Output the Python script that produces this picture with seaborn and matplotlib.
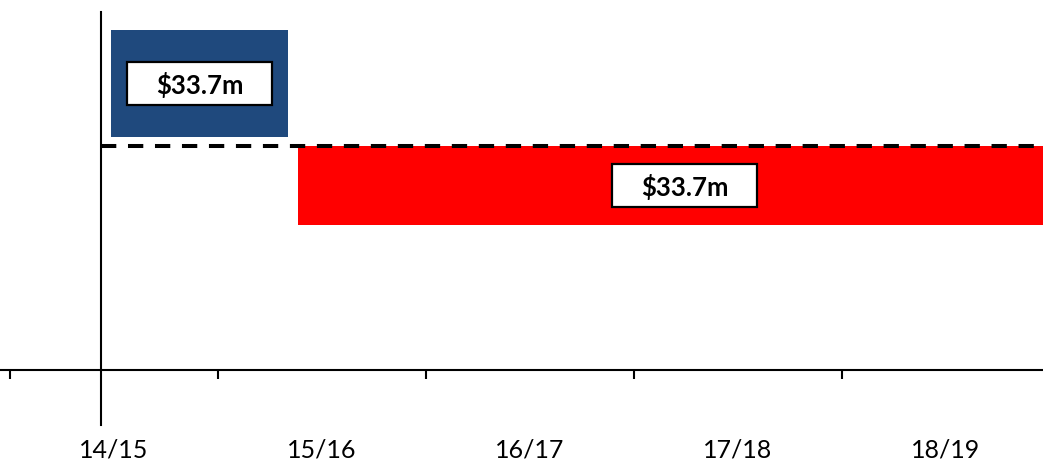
import matplotlib
matplotlib.use("Agg")
import matplotlib.pyplot as plt
import seaborn as sns
from matplotlib.patches import Rectangle

sns.set_theme(style="white")
plt.rcParams["font.family"] = ["Lato", "DejaVu Sans"]

# ------------------------------------------------------
# DATA
# ------------------------------------------------------
years = ["14/15", "15/16", "16/17", "17/18", "18/19"]

# funding blocks: start / end along the year axis, bottom / top level
block_labels = ["$33.7m", "$33.7m"]
block_colors = ["#1F497D", "#FF0000"]
block_start = [-0.014, 0.885]
block_end = [0.837, 4.6]
block_bottom = [23.3, 14.5]
block_top = [34.0, 22.4]

baseline_level = 22.4

# ------------------------------------------------------
# CHART
# ------------------------------------------------------
fig = plt.figure(figsize=(10.43, 4.66), dpi=100)
ax = fig.add_axes([0, 0, 1, 1])
ax.set_xlim(-0.548, 4.466)
ax.set_ylim(-9.6, 37.0)

for x0, x1, y0, y1, c, lab in zip(block_start, block_end, block_bottom,
                                  block_top, block_colors, block_labels):
    ax.bar(x0, y1 - y0, width=x1 - x0, bottom=y0, align="edge",
           color=c, edgecolor="none", zorder=2)
    cx = (x0 + x1) / 2
    cy = (y0 + y1) / 2
    bw, bh = 0.70, 4.3
    ax.add_patch(Rectangle((cx - bw / 2, cy - bh / 2), bw, bh,
                           facecolor="white", edgecolor="black",
                           linewidth=1.6, zorder=3))
    ax.text(cx, cy - 0.15, lab, ha="center", va="center", fontsize=18.5,
            fontweight="bold", color="black", zorder=4)

# dashed baseline
ax.plot([-0.0625, 4.466], [baseline_level, baseline_level], color="black",
        lw=2.9, dashes=(3.8, 2.9), zorder=5)

# axes
for s in ["top", "right"]:
    ax.spines[s].set_visible(False)
ax.spines["bottom"].set_position(("data", 0))
ax.spines["bottom"].set_linewidth(1.5)
ax.spines["bottom"].set_color("black")
ax.spines["left"].set_position(("data", -0.0625))
ax.spines["left"].set_bounds(-5.5, 35.8)
ax.spines["left"].set_linewidth(1.5)
ax.spines["left"].set_color("black")
ax.set_yticks([])

ax.set_xticks(range(len(years)))
ax.set_xticklabels(years, fontsize=18, color="black")
ax.set_xticks([i - 0.5 for i in range(len(years))], minor=True)
ax.tick_params(axis="x", which="major", length=0, pad=49)
ax.tick_params(axis="x", which="minor", length=6.5, width=1.5,
               direction="out", color="black", bottom=True)

fig.savefig("out.png", dpi=100)
